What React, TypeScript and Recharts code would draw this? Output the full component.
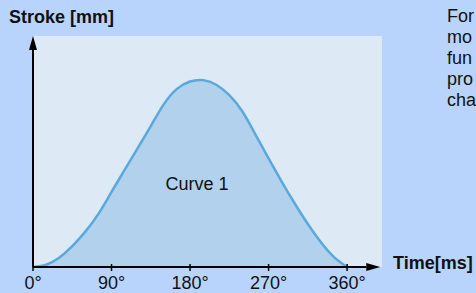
import { AreaChart, Area, XAxis, YAxis, CartesianGrid, ReferenceLine, ReferenceDot } from "recharts";

// crank angle in degrees
const angles = [0, 15, 30, 45, 60, 75, 90, 105, 120, 135, 150, 165, 180, 195, 210, 225, 240, 255, 270, 285, 300, 315, 330, 345, 360];
// stroke (relative units, 100 = top of plot)
const strokeValues = [0, 1, 4, 9, 15.3, 23, 32.5, 42, 51.5, 61, 70.5, 77.1, 80.3, 80.9, 78.9, 74.4, 67.3, 57.3, 47, 37, 27.5, 18.6, 10.7, 4.3, 0];
const xTicks = [0, 90, 180, 270, 360];
const tickLabels = ["0°", "90°", "180°", "270°", "360°"];
const noteLines = ["For", "mo", "fun", "pro", "cha"];

const data = angles.map((a, i) => ({ angle: a, stroke: strokeValues[i] }));

const FONT = "'Liberation Sans', Arial, sans-serif";

const ArrowLine = (props: any) => {
  const { x1, y1, x2, y2 } = props;
  const dx = x2 - x1;
  const dy = y2 - y1;
  const len = Math.hypot(dx, dy) || 1;
  const ux = dx / len;
  const uy = dy / len;
  const head = 14;
  const half = 4;
  const bx = x2 - ux * head;
  const by = y2 - uy * head;
  return (
    <g>
      <line x1={x1} y1={y1} x2={bx} y2={by} stroke="#000" strokeWidth={2} />
      <polygon
        points={`${x2},${y2} ${bx - uy * half},${by + ux * half} ${bx + uy * half},${by - ux * half}`}
        fill="#000"
      />
    </g>
  );
};

const AngleTick = ({ x, y, payload }: any) => (
  <g>
    <line x1={x} y1={y - 3} x2={x} y2={y + 4} stroke="#000" strokeWidth={1.5} />
    <text x={x} y={y + 22} textAnchor="middle" fontSize={18} fontFamily={FONT} fill="#111">
      {tickLabels[xTicks.indexOf(payload.value)]}
    </text>
  </g>
);

export default function App() {
  return (
    <div
      style={{
        position: "absolute",
        left: 0,
        top: 0,
        width: 476,
        height: 293,
        overflow: "hidden",
        background: "#b8d4fc",
        fontFamily: FONT,
        color: "#111",
      }}
    >
      <AreaChart width={476} height={293} data={data} margin={{ top: 36, right: 94, bottom: 0, left: 33 }}>
        <CartesianGrid horizontal={false} vertical={false} fill="#dde9f5" stroke="none" />
        <XAxis
          dataKey="angle"
          type="number"
          domain={[0, 400]}
          ticks={xTicks}
          interval={0}
          height={26}
          axisLine={false}
          tickLine={false}
          tickSize={0}
          tickMargin={0}
          tick={<AngleTick />}
        />
        <YAxis hide domain={[0, 100]} />
        <Area
          type="natural"
          dataKey="stroke"
          stroke="#5aa9dd"
          strokeWidth={2.5}
          fill="#b1d1ec"
          fillOpacity={1}
          isAnimationActive={false}
        />
        <ReferenceLine segment={[{ x: 0, y: 0 }, { x: 0, y: 100 }]} shape={ArrowLine} />
        <ReferenceLine segment={[{ x: 0, y: 0 }, { x: 398, y: 0 }]} shape={ArrowLine} />
        <ReferenceDot
          x={188}
          y={36}
          r={0}
          fill="none"
          stroke="none"
          label={{ value: "Curve 1", fontSize: 18, fill: "#111", fontFamily: FONT }}
        />
      </AreaChart>
      <div style={{ position: "absolute", left: 9, top: 7, fontSize: 18, fontWeight: 700, lineHeight: "21px", whiteSpace: "nowrap" }}>
        Stroke [mm]
      </div>
      <div style={{ position: "absolute", left: 393, top: 253, fontSize: 18, fontWeight: 700, lineHeight: "21px", whiteSpace: "nowrap" }}>
        Time[ms]
      </div>
      <div style={{ position: "absolute", left: 447, top: 6, fontSize: 18, lineHeight: "21px", whiteSpace: "nowrap" }}>
        {noteLines.map((t) => (
          <div key={t}>{t}</div>
        ))}
      </div>
    </div>
  );
}
